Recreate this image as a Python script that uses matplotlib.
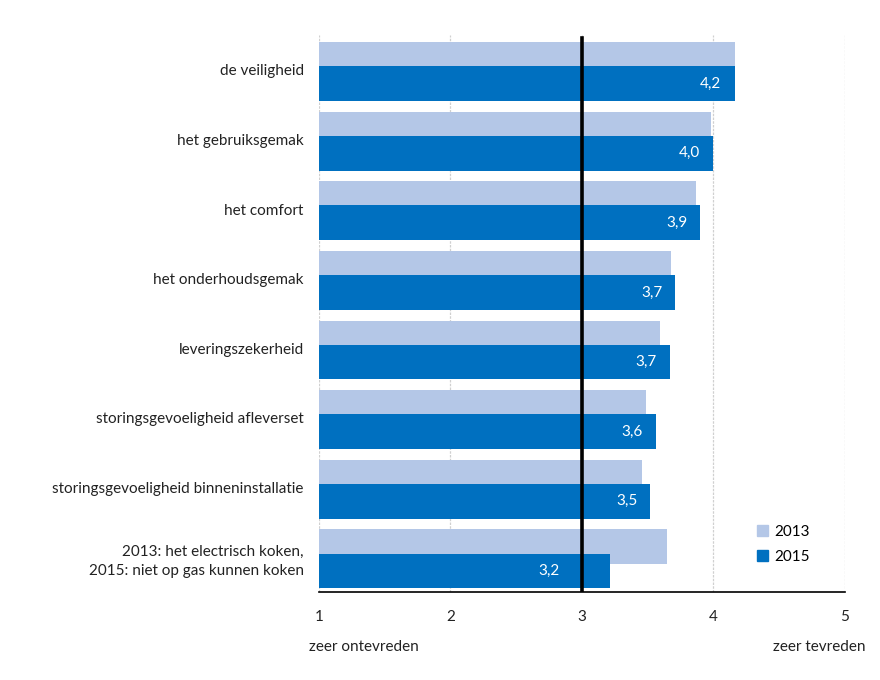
"""
    Horizontal bar chart: tevredenheid 2013 vs 2015
"""
import matplotlib
matplotlib.use('Agg')
import matplotlib.pyplot as plt
from matplotlib.patches import Patch

plt.rcParams['font.family'] = ['Lato', 'DejaVu Sans']

categories = ['de veiligheid', 'het gebruiksgemak', 'het comfort',
              'het onderhoudsgemak', 'leveringszekerheid',
              'storingsgevoeligheid afleverset',
              'storingsgevoeligheid binneninstallatie',
              '2013: het electrisch koken,\n2015: niet op gas kunnen koken']
values_2013 = [4.16, 3.98, 3.87, 3.68, 3.59, 3.49, 3.46, 3.65]
values_2015 = [4.16, 4.00, 3.90, 3.71, 3.67, 3.56, 3.52, 3.21]
labels_2015 = ['4,2', '4,0', '3,9', '3,7', '3,7', '3,6', '3,5', '3,2']
xticks = [1, 2, 3, 4, 5]

light = '#B4C7E7'
dark = '#0070C0'
fs = 11

fig = plt.figure(figsize=(8.8, 6.8), dpi=100)
ax = fig.add_axes([0.3625, 0.1294, 0.5977, 0.8191])

pos = list(range(len(categories)))
ax.barh([p - 0.148 for p in pos], [v - 1 for v in values_2013], left=1,
        height=0.5, color=light, zorder=2)
ax.barh([p + 0.197 for p in pos], [v - 1 for v in values_2015], left=1,
        height=0.5, color=dark, zorder=3)

for p, v, lab in zip(pos, values_2015, labels_2015):
    # keep the label clear of the reference line at 3
    x = v - 0.1 if v - 0.35 > 3 else 2.83
    ax.text(x, p + 0.197, lab, ha='right', va='center',
            color='white', fontsize=fs, zorder=4)

ax.axvline(3, ymin=0, ymax=0.995, color='black', lw=2.6, zorder=5)

ax.set_xlim(1, 5)
ax.set_ylim(len(categories) - 0.5, -0.5)
ax.set_xticks(xticks)
ax.set_xticklabels([str(t) for t in xticks], fontsize=fs)
ax.set_yticks(pos)
ax.set_yticklabels(categories, fontsize=fs)
for t in ax.get_yticklabels():
    t.set_linespacing(1.45)
ax.tick_params(axis='both', length=0, colors='#222222')
ax.tick_params(axis='x', pad=13)
ax.tick_params(axis='y', pad=11)
ax.grid(axis='x', color='#D0D0D0', lw=0.9, ls=(0, (2, 1)), zorder=0)
for s in ['top', 'right', 'left']:
    ax.spines[s].set_visible(False)
ax.spines['bottom'].set_color('black')
ax.spines['bottom'].set_linewidth(1.2)

handles = [Patch(color=light, label='2013'), Patch(color=dark, label='2015')]
fig.legend(handles=handles, loc='upper left', bbox_to_anchor=(0.845, 0.248),
           frameon=False, fontsize=fs, handlelength=0.7, handleheight=0.7,
           handletextpad=0.4, labelspacing=0.7)

fig.text(0.351, 0.0485, 'zeer ontevreden', ha='left', va='center',
         fontsize=fs, color='#222222')
fig.text(0.983, 0.0485, 'zeer tevreden', ha='right', va='center',
         fontsize=fs, color='#222222')

fig.savefig('out.png', dpi=100)
